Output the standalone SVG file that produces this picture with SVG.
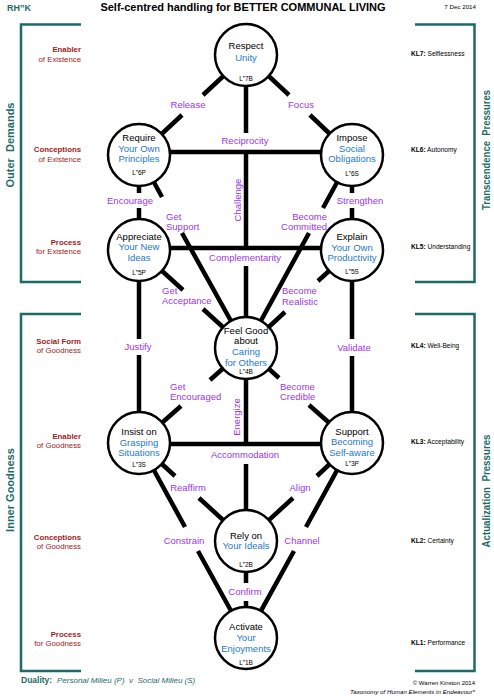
<svg xmlns="http://www.w3.org/2000/svg" width="494" height="700" viewBox="0 0 494 700">
<style>
text{font-family:"Liberation Sans",Arial,sans-serif}
.bg{fill:#fff}
.br{fill:none;stroke:#1d6a6a;stroke-width:2.5}
.ed{fill:none;stroke:#000;stroke-width:4.5;stroke-linecap:butt}
.nd{fill:#fff;stroke:#000;stroke-width:2.5}
.t{font-size:9.5px;fill:#000;text-anchor:middle}
.b{font-size:9.5px;fill:#2479cf;text-anchor:middle}
.c{font-size:6.5px;fill:#000;text-anchor:middle}
.l{font-size:9.5px;fill:#9b35e8}
.m{text-anchor:middle}
.e{text-anchor:end}
.rl{font-size:7.8px;fill:#a01c1c;text-anchor:end}
.kl{font-size:6.6px;fill:#000}
.tl{font-size:11px;font-weight:bold;fill:#1d6a6a;text-anchor:middle}
</style>
<rect class="bg" x="0" y="0" width="494" height="700"/>
<g id="header">
<text x="7" y="10.5" font-size="9px" font-weight="bold" fill="#1d6a6a">RH”K</text>
<text x="243" y="11" font-size="11px" font-weight="bold" fill="#000" text-anchor="middle">Self-centred handling for BETTER COMMUNAL LIVING</text>
<text x="476" y="8.5" font-size="6.2px" fill="#000" text-anchor="end">7 Dec 2014</text>
</g>
<g id="brackets">
<path class="br" d="M81,24.5 H21 V282 H81"/>
<path class="br" d="M81,314 H21 V671 H81"/>
<path class="br" d="M415,24.5 H474.5 V282 H415"/>
<path class="br" d="M415,314 H474.5 V671 H415"/>
<text class="tl" transform="translate(13.5,145) rotate(-90)">Outer &#160;Demands</text>
<text class="tl" transform="translate(13.5,490) rotate(-90)">Inner Goodness</text>
<text class="tl" transform="translate(490,150) rotate(-90)" textLength="120" lengthAdjust="spacingAndGlyphs">Transcendence &#160;Pressures</text>
<text class="tl" transform="translate(490,491) rotate(-90)" textLength="113" lengthAdjust="spacingAndGlyphs">Actualization &#160;Pressures</text>
</g>
<g id="level-labels-left">
<text class="rl" x="81" y="51.8" font-weight="bold">Enabler</text>
<text class="rl" x="81" y="61.8">of Existence</text>
<text class="rl" x="81" y="151.8" font-weight="bold">Conceptions</text>
<text class="rl" x="81" y="161.8">of Existence</text>
<text class="rl" x="81" y="244.8" font-weight="bold">Process</text>
<text class="rl" x="81" y="253.8">for Existence</text>
<text class="rl" x="81" y="343.8" font-weight="bold">Social Form</text>
<text class="rl" x="81" y="352.8">of Goodness</text>
<text class="rl" x="81" y="438.8" font-weight="bold">Enabler</text>
<text class="rl" x="81" y="447.8">of Goodness</text>
<text class="rl" x="81" y="539.8" font-weight="bold">Conceptions</text>
<text class="rl" x="81" y="548.8">of Goodness</text>
<text class="rl" x="81" y="636.8" font-weight="bold">Process</text>
<text class="rl" x="81" y="645.8">for Goodness</text>
</g>
<g id="level-labels-right">
<text class="kl" x="411" y="56.4"><tspan font-weight="bold">KL7:</tspan> Selflessness</text>
<text class="kl" x="411" y="152.4"><tspan font-weight="bold">KL6:</tspan> Autonomy</text>
<text class="kl" x="411" y="249.4"><tspan font-weight="bold">KL5:</tspan> Understanding</text>
<text class="kl" x="411" y="348.4"><tspan font-weight="bold">KL4:</tspan> Well-Being</text>
<text class="kl" x="411" y="444.4"><tspan font-weight="bold">KL3:</tspan> Acceptability</text>
<text class="kl" x="411" y="543.4"><tspan font-weight="bold">KL2:</tspan> Certainty</text>
<text class="kl" x="411" y="645.4"><tspan font-weight="bold">KL1:</tspan> Performance</text>
</g>
<g id="connectors">
<path class="ed" d="M246,55 L203,95 M182,115 L139,155"/>
<path class="ed" d="M246,55 L289,95 M310,115 L352,155"/>
<path class="ed" d="M246,55 L246,133"/>
<path class="ed" d="M139,152 L352,152"/>
<path class="ed" d="M246,152 L246,248"/>
<path class="ed" d="M139,155 L139,193 M139,208 L139,250"/>
<path class="ed" d="M352,155 L352,193 M352,208 L352,250"/>
<path class="ed" d="M139,155 L162,197 M182,233 L246,348"/>
<path class="ed" d="M352,155 L323,208 M309,233 L246,348"/>
<path class="ed" d="M139,248 L352,248"/>
<path class="ed" d="M246,266 L246,348"/>
<path class="ed" d="M139,250 L183,290 M203,309 L246,348"/>
<path class="ed" d="M352,250 L318,281 M285,312 L246,348"/>
<path class="ed" d="M139,250 L139,339 M139,355 L139,443"/>
<path class="ed" d="M352,250 L352,339 M352,356 L352,443"/>
<path class="ed" d="M246,348 L210,380 M181,406 L139,443"/>
<path class="ed" d="M246,348 L279,378 M309,405 L352,443"/>
<path class="ed" d="M246,348 L246,443"/>
<path class="ed" d="M139,444 L352,444"/>
<path class="ed" d="M246,464 L246,541"/>
<path class="ed" d="M139,443 L175,476 M199,498 L246,541"/>
<path class="ed" d="M352,443 L317,476 M293,498 L246,541"/>
<path class="ed" d="M139,443 L185,527 M198,551 L246,638"/>
<path class="ed" d="M352,443 L306,527 M294,551 L246,638"/>
<path class="ed" d="M246,541 L246,583 M246,601 L246,638"/>
</g>
<g id="connector-labels">
<text class="l m" x="188" y="108.3">Release</text>
<text class="l m" x="301" y="108.3">Focus</text>
<text class="l m" x="245" y="144.3">Reciprocity</text>
<text class="l m" transform="translate(240.5,200) rotate(-90)">Challenge</text>
<text class="l m" x="130" y="204.3">Encourage</text>
<text class="l m" x="360" y="204.3">Strengthen</text>
<text class="l" x="166" y="220.3">Get</text>
<text class="l" x="166" y="230.3">Support</text>
<text class="l e" x="327" y="220.3">Become</text>
<text class="l e" x="327" y="230.3">Committed</text>
<text class="l m" x="245" y="261.3">Complementarity</text>
<text class="l" x="162" y="294.3">Get</text>
<text class="l" x="162" y="304.3">Acceptance</text>
<text class="l" x="282" y="294.3">Become</text>
<text class="l" x="282" y="305.3">Realistic</text>
<text class="l m" x="138" y="350.3">Justify</text>
<text class="l m" x="354" y="351.3">Validate</text>
<text class="l" x="170" y="390.3">Get</text>
<text class="l" x="170" y="400.3">Encouraged</text>
<text class="l" x="280" y="390.3">Become</text>
<text class="l" x="280" y="400.3">Credible</text>
<text class="l m" transform="translate(240,417) rotate(-90)">Energize</text>
<text class="l m" x="245" y="458.3">Accommodation</text>
<text class="l m" x="188" y="491.3">Reaffirm</text>
<text class="l m" x="300" y="491.3">Align</text>
<text class="l m" x="184" y="544.3">Constrain</text>
<text class="l m" x="302" y="544.3">Channel</text>
<text class="l m" x="245" y="595.3">Confirm</text>
</g>
<g id="node-L7B">
<circle class="nd" cx="246" cy="55" r="31"/>
<text class="t" x="246" y="49.3">Respect</text>
<text class="b" x="246" y="61.3">Unity</text>
<text class="c" x="246" y="81.3">L”7B</text>
</g>
<g id="node-L6P">
<circle class="nd" cx="139" cy="155" r="31"/>
<text class="t" x="139" y="141.3">Require</text>
<text class="b" x="139" y="152.3">Your Own</text>
<text class="b" x="139" y="162.3">Principles</text>
<text class="c" x="139" y="175.3">L”6P</text>
</g>
<g id="node-L6S">
<circle class="nd" cx="352" cy="155" r="31"/>
<text class="t" x="352" y="141.3">Impose</text>
<text class="b" x="352" y="152.3">Social</text>
<text class="b" x="352" y="162.3">Obligations</text>
<text class="c" x="352" y="176.3">L”6S</text>
</g>
<g id="node-L5P">
<circle class="nd" cx="139" cy="250" r="31"/>
<text class="t" x="139" y="240.3">Appreciate</text>
<text class="b" x="139" y="250.3">Your New</text>
<text class="b" x="139" y="261.3">Ideas</text>
<text class="c" x="139" y="275.3">L”5P</text>
</g>
<g id="node-L5S">
<circle class="nd" cx="352" cy="250" r="31"/>
<text class="t" x="352" y="240.3">Explain</text>
<text class="b" x="352" y="251.3">Your Own</text>
<text class="b" x="352" y="261.3">Productivity</text>
<text class="c" x="352" y="274.3">L”5S</text>
</g>
<g id="node-L4B">
<circle class="nd" cx="246" cy="348" r="31"/>
<text class="t" x="246" y="334" font-size="9px">Feel Good</text>
<text class="t" x="246" y="344" font-size="9px">about</text>
<text class="b" x="246" y="355.3">Caring</text>
<text class="b" x="246" y="365.6">for Others</text>
<text class="c" x="246" y="373.5">L”4B</text>
</g>
<g id="node-L3S">
<circle class="nd" cx="139" cy="443" r="31"/>
<text class="t" x="139" y="435.3">Insist on</text>
<text class="b" x="139" y="446.3">Grasping</text>
<text class="b" x="139" y="456.3">Situations</text>
<text class="c" x="139" y="467.3">L”3S</text>
</g>
<g id="node-L3P">
<circle class="nd" cx="352" cy="443" r="31"/>
<text class="t" x="352" y="435.3">Support</text>
<text class="b" x="352" y="445.3">Becoming</text>
<text class="b" x="352" y="456.3">Self-aware</text>
<text class="c" x="352" y="466.3">L”3P</text>
</g>
<g id="node-L2B">
<circle class="nd" cx="246" cy="541" r="31"/>
<text class="t" x="246" y="539.3">Rely on</text>
<text class="b" x="246" y="549.3">Your Ideals</text>
<text class="c" x="246" y="567.3">L”2B</text>
</g>
<g id="node-L1B">
<circle class="nd" cx="246" cy="638" r="31"/>
<text class="t" x="246" y="630.3">Activate</text>
<text class="b" x="246" y="641.3">Your</text>
<text class="b" x="246" y="652.3">Enjoyments</text>
<text class="c" x="246" y="665.3">L”1B</text>
</g>
<g id="footer">
<text x="21" y="683" font-size="8.5px" font-weight="bold" fill="#1d6a6a">Duality:</text>
<text x="57" y="683" font-size="8px" font-style="italic" fill="#1d6a6a">Personal Milieu (P) &#160;v &#160;Social Milieu (S)</text>
<text x="475" y="685" font-size="6px" fill="#000" text-anchor="end">© Warren Kinston 2014</text>
<text x="475" y="694" font-size="6.2px" font-style="italic" fill="#000" text-anchor="end">Taxonomy of Human Elements in Endeavour*</text>
</g>
</svg>
